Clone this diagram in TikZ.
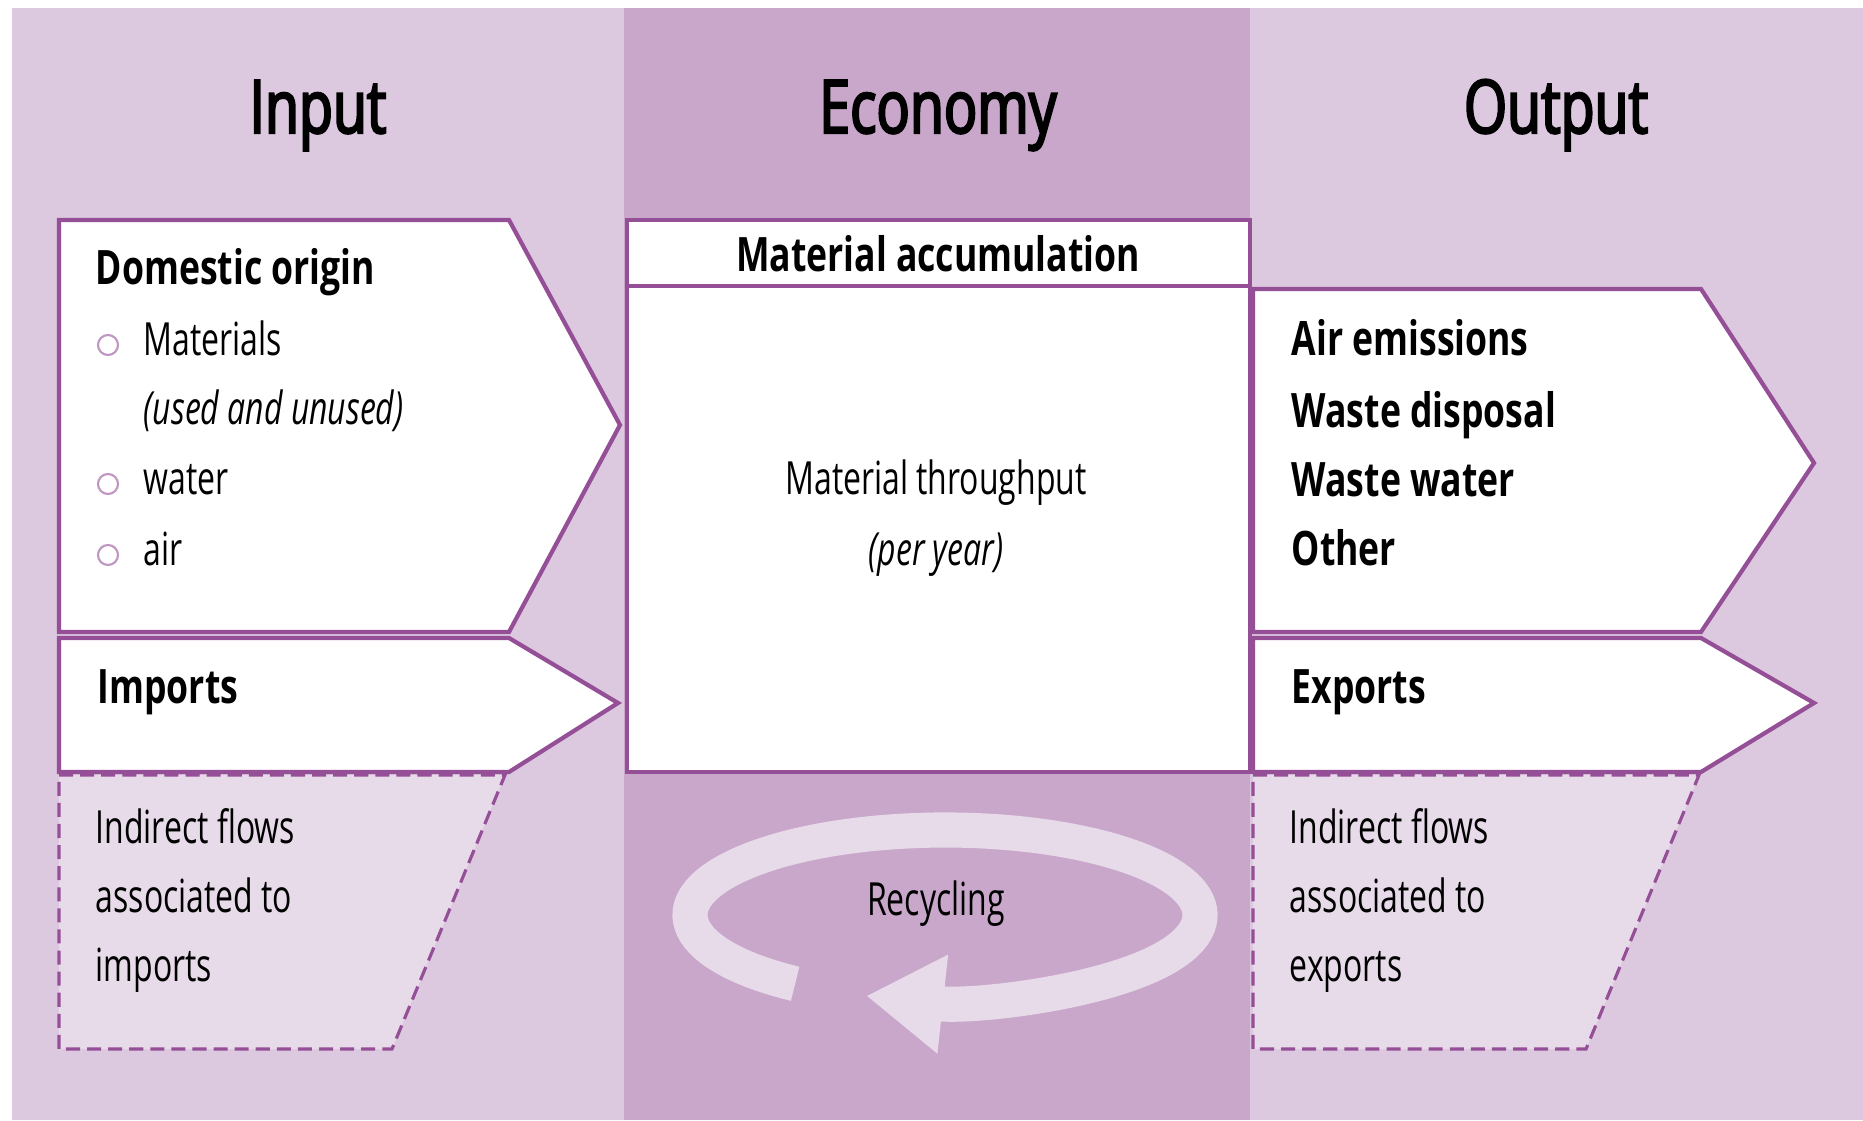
\documentclass[tikz,border=0pt]{standalone}
\usepackage{fontspec}
\setmainfont{Open Sans}[FakeStretch=0.70,
  BoldFeatures={FakeStretch=0.75}, BoldItalicFeatures={FakeStretch=0.75}]
\newfontfamily\titlefont{Open Sans}[FakeStretch=0.75, FakeBold=3]
\usetikzlibrary{arrows.meta}

\definecolor{panel}{HTML}{DDC9DF}
\definecolor{eco}{HTML}{C9A7CA}
\definecolor{edge}{HTML}{954F97}
\definecolor{pale}{HTML}{E7DBE9}

\tikzset{
  flow/.style={draw=edge, fill=white, line width=1.2pt, line join=miter},
  indirect/.style={draw=edge, fill=pale, line width=0.9pt, dash pattern=on 4pt off 2pt},
  head/.style={font=\titlefont\fontsize{21}{25}\selectfont, anchor=base, inner sep=0pt},
  txt/.style={font=\fontsize{13}{16}\selectfont, anchor=base west, inner sep=0pt},
  btxt/.style={txt, font=\fontsize{13.5}{16}\selectfont\bfseries},
  ctxt/.style={txt, anchor=base},
  dot/.style={draw=edge!60, line width=0.6pt},
  ring/.style={draw=pale, line width=10pt, -{Triangle[length=0.77cm, width=0.94cm]}}
}

\begin{document}
\begin{tikzpicture}
  \useasboundingbox (0,0) rectangle (18.63,11.20);
  % columns
  \fill[panel] (0.12,0) rectangle (6.24,11.12);
  \fill[eco] (6.24,0) rectangle (12.50,11.12);
  \fill[panel] (12.50,0) rectangle (18.63,11.12);
  \node[head] (input) at (3.18,9.87) {Input};
  \node[head] (economy) at (9.38,9.87) {Economy};
  \node[head] (output) at (15.56,9.87) {Output};

  % input side
  \draw[flow] (0.59,9.00) -- (5.09,9.00) -- (6.20,6.95) -- (5.09,4.88) -- (0.59,4.88) -- cycle;
  \draw[flow] (0.59,4.82) -- (5.09,4.82) -- (6.18,4.17) -- (5.09,3.48) -- (0.59,3.48) -- cycle;
  \draw[indirect] (0.59,3.45) -- (5.05,3.45) -- (3.92,0.71) -- (0.59,0.71) -- cycle;
  \node[btxt] (domestic) at (0.95,8.35) {Domestic origin};
  \foreach \y/\t [count=\i] in {7.64/Materials, 6.25/water, 5.54/air}{
    \draw[dot] (1.08,\y+0.11) circle[radius=0.1];
    \node[txt] (item\i) at (1.43,\y) {\t};
  }
  \node[txt] (used) at (1.43,6.95) {\itshape (used and unused)};
  \node[btxt] (imports) at (0.97,4.17) {Imports};
  \node[txt] (indimp1) at (0.95,2.77) {Indirect flows};
  \node[txt] (indimp2) at (0.95,2.08) {associated to};
  \node[txt] (indimp3) at (0.95,1.39) {imports};

  % economy
  \draw[flow] (6.27,8.34) rectangle (12.50,3.48);
  \draw[flow] (6.27,9.00) rectangle (12.50,8.34);
  \node[btxt, anchor=base] (accum) at (9.38,8.48) {Material accumulation};
  \node[ctxt] (through) at (9.36,6.25) {Material throughput};
  \node[ctxt] (peryear) at (9.36,5.54) {\itshape (per year)};
  \draw[ring] (9.45,2.05) ++(234:2.55 and 0.85)
    arc[start angle=234, end angle=-108, x radius=2.55, y radius=0.85];
  \node[ctxt] (recyc) at (9.36,2.05) {Recycling};

  % output side
  \draw[flow] (12.53,8.31) -- (17.01,8.31) -- (18.14,6.57) -- (17.01,4.88) -- (12.53,4.88) -- cycle;
  \draw[flow] (12.53,4.82) -- (17.01,4.82) -- (18.14,4.17) -- (17.01,3.48) -- (12.53,3.48) -- cycle;
  \draw[indirect] (12.53,3.45) -- (16.99,3.45) -- (15.86,0.71) -- (12.53,0.71) -- cycle;
  \foreach \y/\t [count=\i] in {7.64/Air emissions, 6.92/Waste disposal, 6.23/Waste water, 5.54/Other}{
    \node[btxt] (out\i) at (12.91,\y) {\t};
  }
  \node[btxt] (exports) at (12.91,4.17) {Exports};
  \node[txt] (indexp1) at (12.89,2.77) {Indirect flows};
  \node[txt] (indexp2) at (12.89,2.08) {associated to};
  \node[txt] (indexp3) at (12.89,1.39) {exports};
\end{tikzpicture}
\end{document}
